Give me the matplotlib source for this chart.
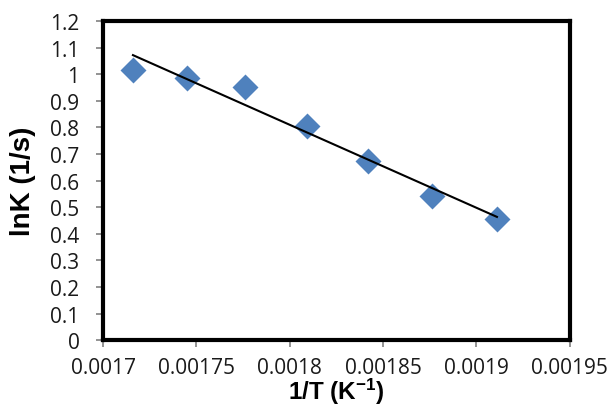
import numpy as np
import matplotlib
matplotlib.use("Agg")
import matplotlib.pyplot as plt

plt.rcParams["mathtext.fontset"] = "custom"
plt.rcParams["mathtext.rm"] = "Liberation Sans:bold"
plt.rcParams["mathtext.default"] = "rm"

# data
inv_T = [0.001716, 0.001745, 0.001776, 0.001809, 0.001842, 0.001876, 0.001911]
lnK = [1.016, 0.986, 0.952, 0.806, 0.675, 0.544, 0.457]
x_ticks = [0.0017, 0.00175, 0.0018, 0.00185, 0.0019, 0.00195]
x_tick_labels = ["0.0017", "0.00175", "0.0018", "0.00185", "0.0019", "0.00195"]
y_ticks = [0, 0.1, 0.2, 0.3, 0.4, 0.5, 0.6, 0.7, 0.8, 0.9, 1.0, 1.1, 1.2]
y_tick_labels = ["0", "0.1", "0.2", "0.3", "0.4", "0.5", "0.6", "0.7", "0.8", "0.9", "1", "1.1", "1.2"]

fig = plt.figure(figsize=(6.1, 4.1), dpi=100)
ax = fig.add_axes([0.169, 0.168, 0.765, 0.778])

# linear trendline over the data range
slope, icpt = np.polyfit(inv_T, lnK, 1)
xs = np.array([min(inv_T), max(inv_T)])
ax.plot(xs, slope * xs + icpt, color="black", lw=1.5, zorder=3)

ax.scatter(inv_T, lnK, marker="D", s=175, color="#4F81BD", zorder=2, linewidths=0)

ax.set_xlim(0.0017, 0.00195)
ax.set_ylim(0, 1.2)
ax.set_xticks(x_ticks, x_tick_labels)
ax.set_yticks(y_ticks, y_tick_labels)

ax.tick_params(direction="out", length=5, width=1.2, color="#808080",
               labelsize=15, labelcolor="#1a1a1a", labelfontfamily="Open Sans")
ax.tick_params(axis="y", pad=12)
ax.tick_params(axis="x", pad=7)

for side in ["top", "right", "left", "bottom"]:
    ax.spines[side].set_color("black")
    ax.spines[side].set_linewidth(3)

ax.set_xlabel("1/T (K$^{-1}$)", fontfamily="Liberation Sans", fontweight="bold",
              fontsize=17.5, labelpad=-1.5)
ax.set_ylabel("lnK (1/s)", fontfamily="Liberation Sans", fontweight="bold",
              fontsize=20, labelpad=10)

fig.savefig("out.png", dpi=100)
